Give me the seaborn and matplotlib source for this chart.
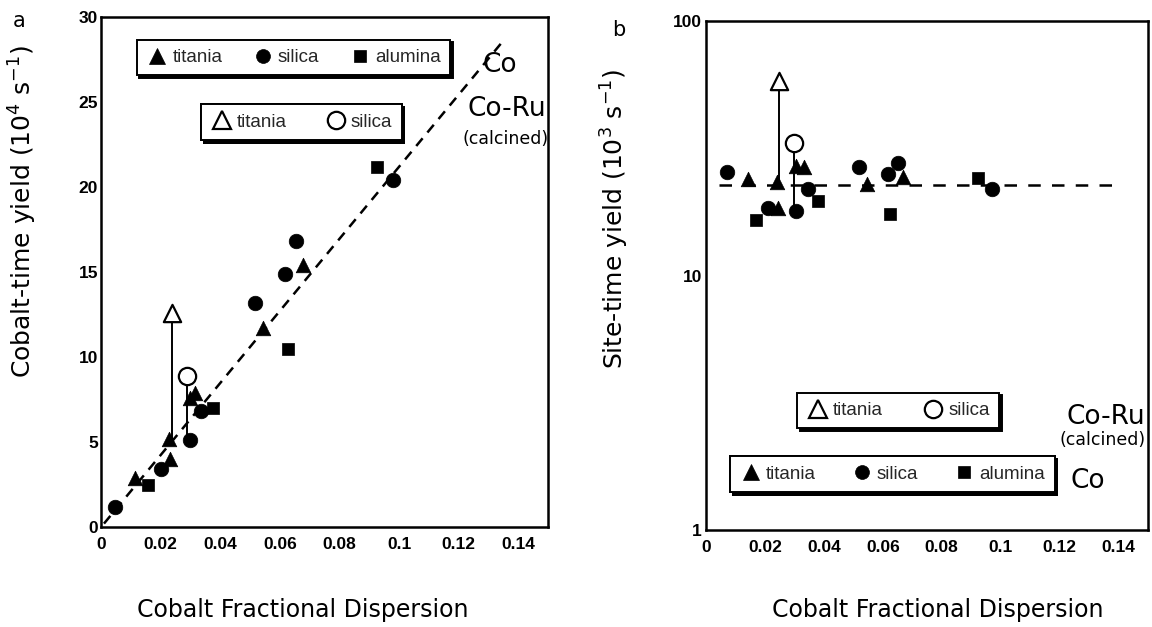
import matplotlib
matplotlib.use("Agg")
import matplotlib.pyplot as plt
from matplotlib.lines import Line2D
from matplotlib.ticker import FixedLocator, NullFormatter, FixedFormatter
import pandas as pd
import seaborn as sns

# ---- Co catalysts, panel a: cobalt-time yield (10^-4 s^-1) ----
co_a_support = ["silica", "titania", "alumina", "silica", "titania", "titania",
                "silica", "titania", "titania", "silica", "alumina", "silica",
                "titania", "alumina", "silica", "silica", "titania", "alumina",
                "silica"]
co_a_disp = [0.0047, 0.0115, 0.0159, 0.0200, 0.0230, 0.0227,
             0.0298, 0.0298, 0.0315, 0.0335, 0.0376, 0.0518,
             0.0545, 0.0629, 0.0619, 0.0653, 0.0677, 0.0927,
             0.0981]
co_a_yield = [1.2, 2.9, 2.5, 3.4, 4.0, 5.2,
              5.1, 7.6, 7.9, 6.8, 7.0, 13.2,
              11.7, 10.5, 14.9, 16.8, 15.4, 21.2,
              20.4]

# ---- Co-Ru (calcined), panel a ----
coru_a_support = ["titania", "silica"]
coru_a_disp = [0.0237, 0.0288]
coru_a_yield = [12.6, 8.9]
coru_a_base = [5.2, 5.1]          # matching Co catalyst

# ---- panel a trend line ----
fit_a_disp = [0.001, 0.1345]
fit_a_yield = [0.2, 28.5]

# ---- Co catalysts, panel b: site-time yield (10^-3 s^-1) ----
co_b_support = ["silica", "titania", "alumina", "silica", "titania", "titania",
                "silica", "titania", "titania", "silica", "alumina", "silica",
                "titania", "alumina", "silica", "silica", "titania", "alumina",
                "silica"]
co_b_disp = [0.0071, 0.0144, 0.0170, 0.0210, 0.0246, 0.0241,
             0.0306, 0.0304, 0.0332, 0.0346, 0.0380, 0.0519,
             0.0548, 0.0626, 0.0616, 0.0650, 0.0669, 0.0924,
             0.0972]
co_b_yield = [25.4, 23.9, 16.5, 18.4, 18.4, 23.4,
              17.9, 27.0, 26.8, 21.8, 19.6, 26.8,
              22.8, 17.4, 25.0, 27.6, 24.3, 24.2,
              21.8]

# ---- Co-Ru (calcined), panel b ----
coru_b_support = ["titania", "silica"]
coru_b_disp = [0.0247, 0.0298]
coru_b_yield = [58.1, 33.2]
coru_b_base = [23.4, 17.9]

# ---- panel b mean line ----
fit_b_disp = [0.0044, 0.141]
fit_b_yield = [22.6, 22.6]

x_ticks = [0, 0.02, 0.04, 0.06, 0.08, 0.1, 0.12, 0.14]
x_tick_labels = ["0", "0.02", "0.04", "0.06", "0.08", "0.1", "0.12", "0.14"]
a_ticks = [0, 5, 10, 15, 20, 25, 30]
b_ticks = [1, 10, 100]

supports = ["titania", "silica", "alumina"]
marker_of = {"titania": "^", "silica": "o", "alumina": "s"}
size_of = {"titania": 110, "silica": 110, "alumina": 64}

sns.set_theme(style="white")
plt.rcParams["font.family"] = ["Liberation Sans", "DejaVu Sans"]
plt.rcParams["mathtext.fontset"] = "dejavusans"

W, H = 1152, 627
fig = plt.figure(figsize=(W / 100, H / 100), dpi=100)
fig.patch.set_facecolor("white")


def fx(px):
    return px / W


def fy(py):
    return 1 - py / H


ax_a = fig.add_axes([fx(101), fy(527), fx(548) - fx(101), fy(17) - fy(527)])
ax_b = fig.add_axes([fx(706), fy(530), fx(1148) - fx(706), fy(21) - fy(530)])

tick_font = {"family": "Liberation Sans", "weight": "bold", "size": 12.5}


def draw_panel(ax, sup, disp, yld, r_sup, r_disp, r_yld, r_base,
               fit_x, fit_y, dash):
    df = pd.DataFrame({"disp": disp, "yield": yld, "support": sup})
    ax.plot(fit_x, fit_y, color="black", lw=1.8, linestyle=dash, zorder=1)
    for rx, ry, rb in zip(r_disp, r_yld, r_base):
        ax.plot([rx, rx], [rb, ry], color="black", lw=1.4, zorder=1.5)
    for s in supports:
        sub = df[df["support"] == s]
        sns.scatterplot(data=sub, x="disp", y="yield", marker=marker_of[s],
                        s=size_of[s], color="black", edgecolor="black",
                        linewidth=0.5, ax=ax, zorder=3, legend=False)
    rdf = pd.DataFrame({"disp": r_disp, "yield": r_yld, "support": r_sup})
    for s in ["titania", "silica"]:
        sub = rdf[rdf["support"] == s]
        sns.scatterplot(data=sub, x="disp", y="yield", marker=marker_of[s],
                        s=155, facecolor="white", edgecolor="black",
                        linewidth=1.6, ax=ax, zorder=4, legend=False)
    ax.set_xlim(0, 0.15)
    ax.xaxis.set_major_locator(FixedLocator(x_ticks))
    ax.set_xticklabels(x_tick_labels, fontdict=tick_font)
    ax.set_xlabel("")
    ax.set_ylabel("")
    for sp in ax.spines.values():
        sp.set_visible(True)
        sp.set_color("black")
        sp.set_linewidth(1.8)
    ax.tick_params(axis="x", direction="in", length=9, width=1.6,
                   pad=7, colors="black")
    ax.tick_params(axis="y", which="major", direction="in", length=8,
                   width=1.6, pad=2, colors="black")


draw_panel(ax_a, co_a_support, co_a_disp, co_a_yield,
           coru_a_support, coru_a_disp, coru_a_yield, coru_a_base,
           fit_a_disp, fit_a_yield, (0, (4, 3)))
ax_a.set_ylim(0, 30)
ax_a.yaxis.set_major_locator(FixedLocator(a_ticks))
ax_a.set_yticklabels([str(t) for t in a_ticks], fontdict=tick_font)

draw_panel(ax_b, co_b_support, co_b_disp, co_b_yield,
           coru_b_support, coru_b_disp, coru_b_yield, coru_b_base,
           fit_b_disp, fit_b_yield, (0, (5, 4.5)))
ax_b.set_yscale("log")
ax_b.set_ylim(1, 100)
ax_b.yaxis.set_major_locator(FixedLocator(b_ticks))
ax_b.yaxis.set_major_formatter(FixedFormatter([str(t) for t in b_ticks]))
ax_b.yaxis.set_minor_locator(FixedLocator(
    [m * d for d in (1, 10) for m in range(2, 10)]))
ax_b.yaxis.set_minor_formatter(NullFormatter())
for lbl in ax_b.get_yticklabels():
    lbl.set_fontfamily("Liberation Sans")
    lbl.set_fontweight("bold")
    lbl.set_fontsize(12.5)
ax_b.tick_params(axis="y", which="minor", direction="in", length=6,
                 width=1.4, colors="black")
ax_b.tick_params(axis="y", which="major", pad=3)


def add_key(ax, entries, cx, cy, colsp):
    handles = []
    for lbl, mk, face, ms in entries:
        handles.append(Line2D([], [], linestyle="none", marker=mk,
                              markersize=ms, markerfacecolor=face,
                              markeredgecolor="black",
                              markeredgewidth=1.6 if face == "white" else 0.5,
                              label=lbl))
    leg = ax.legend(handles=handles, loc="center",
                    bbox_to_anchor=(fx(cx), fy(cy)),
                    bbox_transform=fig.transFigure, ncol=len(handles),
                    frameon=True, fancybox=False,
                    shadow={"color": "black", "alpha": 1},
                    edgecolor="black", framealpha=1, borderpad=0.5,
                    handlelength=1.2, handletextpad=0.2,
                    columnspacing=colsp,
                    prop={"family": "Liberation Sans", "size": 13.5})
    leg.get_frame().set_linewidth(1.4)
    leg.set_zorder(6)
    ax.add_artist(leg)


filled_keys = [("titania", "^", "black", 11), ("silica", "o", "black", 10),
               ("alumina", "s", "black", 8)]
open_keys = [("titania", "^", "white", 12.5), ("silica", "o", "white", 12.5)]

add_key(ax_a, filled_keys, 293.5, 57.5, 1.57)
add_key(ax_a, open_keys, 301.5, 122, 2.0)
add_key(ax_b, open_keys, 898, 410.5, 2.1)
add_key(ax_b, filled_keys, 892.5, 474, 1.85)

# series names beside the plots
txt = dict(ha="center", va="center", color="black", fontfamily="DejaVu Sans")
fig.text(fx(500), fy(65), "Co", fontsize=19, **txt)
fig.text(fx(507), fy(109), "Co-Ru", fontsize=19, **txt)
fig.text(fx(506), fy(139), "(calcined)", fontsize=12.5, **txt)
fig.text(fx(1106), fy(417), "Co-Ru", fontsize=19, **txt)
fig.text(fx(1103), fy(440), "(calcined)", fontsize=12.5, **txt)
fig.text(fx(1088), fy(481), "Co", fontsize=19, **txt)

# panel letters
fig.text(fx(19), fy(21), "a", fontsize=15, **txt)
fig.text(fx(619), fy(30), "b", fontsize=15, **txt)

# axis titles
fig.text(fx(303), fy(610), "Cobalt Fractional Dispersion", fontsize=17, **txt)
fig.text(fx(938), fy(610), "Cobalt Fractional Dispersion", fontsize=17, **txt)
fig.text(fx(23), fy(211), r"Cobalt-time yield (10$^4$ s$^{-1}$)",
         fontsize=18, rotation=90, **txt)
fig.text(fx(615), fy(219), r"Site-time yield (10$^3$ s$^{-1}$)",
         fontsize=18, rotation=90, **txt)

fig.savefig("out.png", dpi=100, facecolor="white")
